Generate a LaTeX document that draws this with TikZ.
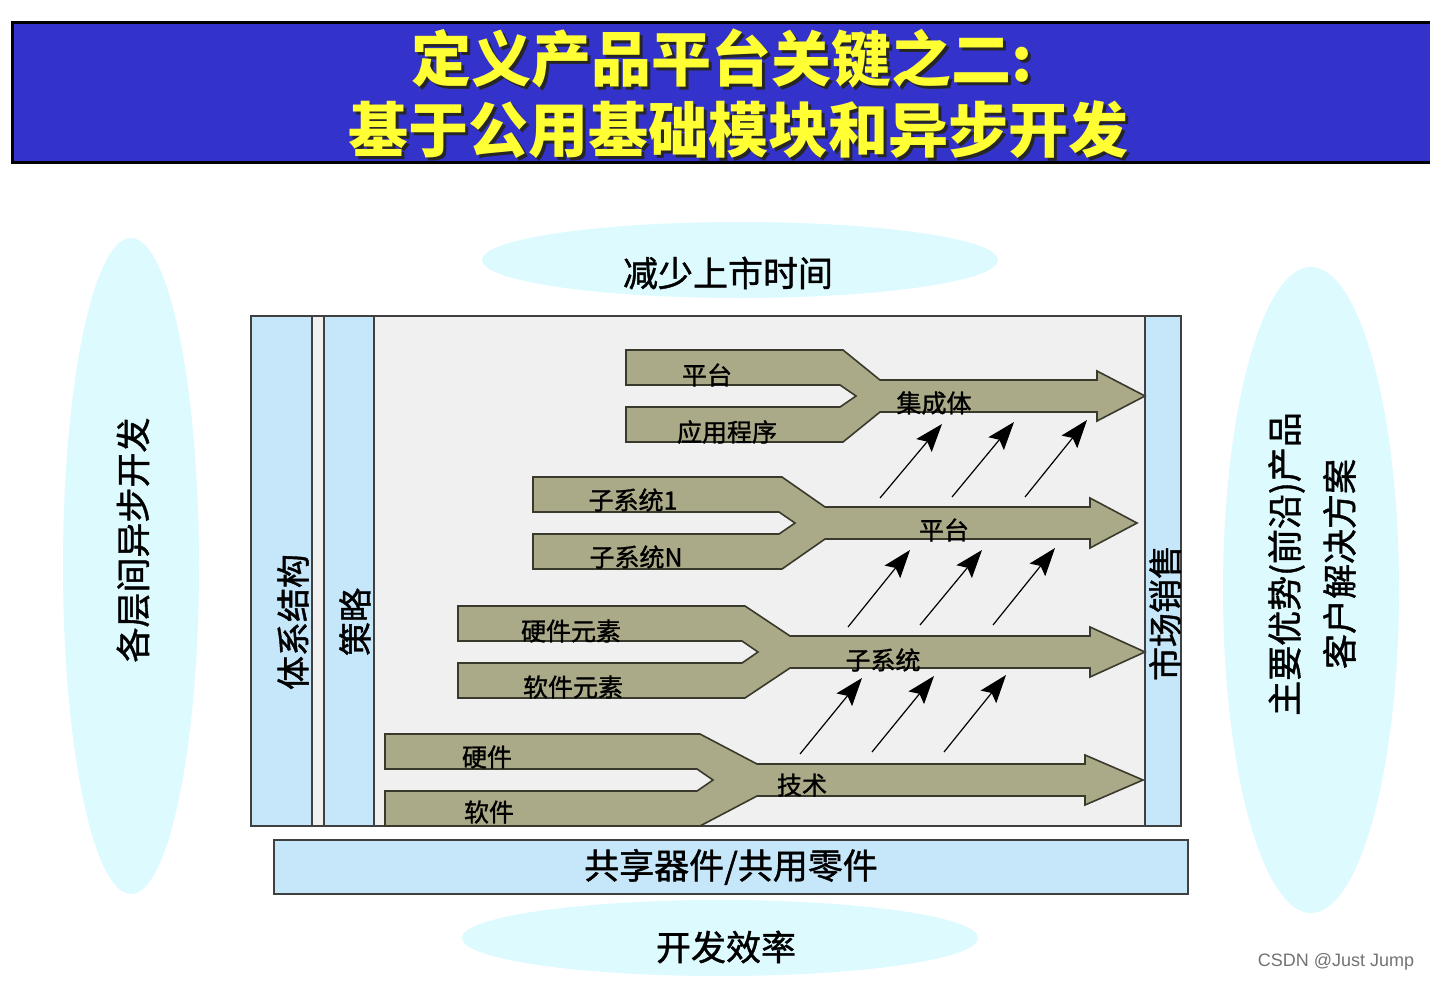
\documentclass[tikz,border=0pt]{standalone}
\usepackage{fontspec}
\newfontfamily\cjk{Noto Sans CJK SC}
\newfontfamily\cjkm{Noto Sans CJK SC}[FakeBold=1.2]
\setsansfont{Liberation Sans}
\usetikzlibrary{arrows.meta,shapes.geometric}
\definecolor{titleblue}{HTML}{3333CC}
\definecolor{titleyellow}{HTML}{FFFF33}
\definecolor{ellfill}{HTML}{DDFBFF}
\definecolor{colfill}{HTML}{C6E7FA}
\definecolor{boxgray}{HTML}{F0F0F0}
\definecolor{olive}{HTML}{AAA988}
\definecolor{oliveline}{HTML}{3A3A2C}
\newcommand\forkarrow[6]{%
  \filldraw[fork] ({#2},{#1-46}) -- ({#3},{#1-46}) -- ({#4},{#1-16}) -- ({#5},{#1-16})
    -- ({#5},{#1-25}) -- ({#6},{#1}) -- ({#5},{#1+25}) -- ({#5},{#1+16}) -- ({#4},{#1+16})
    -- ({#3},{#1+46}) -- ({#2},{#1+46}) -- ({#2},{#1+11}) -- ({#3-3},{#1+11})
    -- ({#3+13},{#1}) -- ({#3-3},{#1-11}) -- ({#2},{#1-11}) -- cycle;}
\begin{document}
\begin{tikzpicture}[x=0.5pt,y=-0.5pt,font=\cjk,
  ell/.style={ellipse,fill=ellfill,draw=none,inner sep=0pt},
  col/.style={fill=colfill,draw=black!75,line width=0.6pt},
  fork/.style={fill=olive,draw=oliveline,line width=0.8pt,line join=miter},
  lbl/.style={font=\cjkm\fontsize{12.5}{14}\selectfont,text=black,inner sep=0pt},
  big/.style={font=\cjkm\fontsize{17.5}{27.5}\selectfont,text=black,inner sep=0pt,align=center},
  side/.style={font=\cjkm\fontsize{17}{20}\selectfont,text=black,inner sep=0pt},
  small/.style={draw=black,line width=0.6pt,-{Stealth[length=14pt,width=10pt,inset=2.5pt]}},
  ttl/.style={font=\cjk\bfseries\fontsize{30}{36}\selectfont,inner sep=0pt}]
\useasboundingbox (0,0) rectangle (1430,982);
\fill[white] (0,0) rectangle (1430,982);
% title bar
\fill[titleblue] (12,22) rectangle (1430,162);
\draw[black,line width=1.5pt] (1430,22) -- (12,22) -- (12,162) -- (1430,162);
\node[ttl,text=black!85] at (725,61) {定义产品平台关键之二:};
\node[ttl,text=black!85] at (741,133) {基于公用基础模块和异步开发};
\node[ttl,text=titleyellow] (t1) at (722,58) {定义产品平台关键之二:};
\node[ttl,text=titleyellow] (t2) at (738,130) {基于公用基础模块和异步开发};
% ellipses
\node[ell,minimum width=68pt,minimum height=328pt] (left) at (131,566) {};
\node[big,rotate=90] (lefttext) at (133,540) {各层间异步开发};
\node[ell,minimum width=258pt,minimum height=38pt] (top) at (740,260) {};
\node[big] (toptext) at (728,273) {减少上市时间};
\node[ell,minimum width=88pt,minimum height=323pt] (right) at (1311,590) {};
\node[big,rotate=90] (righttext) at (1312,564) {主要优势(前沿)产品\\客户解决方案};
\node[ell,minimum width=258pt,minimum height=38pt] (bottom) at (720,938) {};
\node[big] (bottomtext) at (726,947) {开发效率};
% main box
\filldraw[fill=boxgray,draw=black!75,line width=0.6pt] (251,316) rectangle (1181,826);
\filldraw[col] (251,316) rectangle (312,826);
\filldraw[col] (324,316) rectangle (374,826);
\filldraw[col] (1145,316) rectangle (1181,826);
\node[side,rotate=90] (arch) at (293,622) {体系结构};
\node[side,rotate=90] (strat) at (355,622) {策略};
\node[side,rotate=90] (mkt) at (1165,613) {市场销售};
% bottom bar
\node[col,minimum width=457pt,minimum height=27pt,inner sep=0pt,
  font=\cjkm\fontsize{17.5}{20}\selectfont] (shared) at (731,867) {共享器件/共用零件};
% forked arrows
\forkarrow{396}{626}{843}{880}{1097}{1145}
\forkarrow{523}{533}{782}{825}{1090}{1137}
\forkarrow{652}{458}{745}{790}{1090}{1145}
\forkarrow{780}{385}{700}{757}{1085}{1143}
\draw[black!75,line width=0.6pt] (1145,316) -- (1145,826);
% arrow labels
\node[lbl] (a1) at (707,375) {平台};
\node[lbl] (a2) at (727,432) {应用程序};
\node[lbl] (a3) at (934,403) {集成体};
\node[lbl] (b1) at (633,500) {子系统1};
\node[lbl] (b2) at (636,557) {子系统N};
\node[lbl] (b3) at (944,530) {平台};
\node[lbl] (c1) at (571,631) {硬件元素};
\node[lbl] (c2) at (573,687) {软件元素};
\node[lbl] (c3) at (883,660) {子系统};
\node[lbl] (d1) at (487,757) {硬件};
\node[lbl] (d2) at (489,812) {软件};
\node[lbl] (d3) at (802,785) {技术};
% small arrows
\foreach \i/\xs/\ys/\xe/\ye in {
  1/880/498/942/424, 2/952/497/1014/422, 3/1025/497/1087/420,
  4/848/627/910/550, 5/920/625/982/550, 6/993/625/1055/548,
  7/800/754/862/678, 8/872/752/934/676, 9/944/752/1006/675}{
  \coordinate (s\i) at (\xs,\ys);
  \coordinate (e\i) at (\xe,\ye);
  \draw[small] (s\i) -- (e\i);
}
% watermark
\node[font=\sffamily\fontsize{9}{10}\selectfont,text=black!55,inner sep=0pt] (wm) at (1336,962) {CSDN @Just Jump};
\end{tikzpicture}
\end{document}
